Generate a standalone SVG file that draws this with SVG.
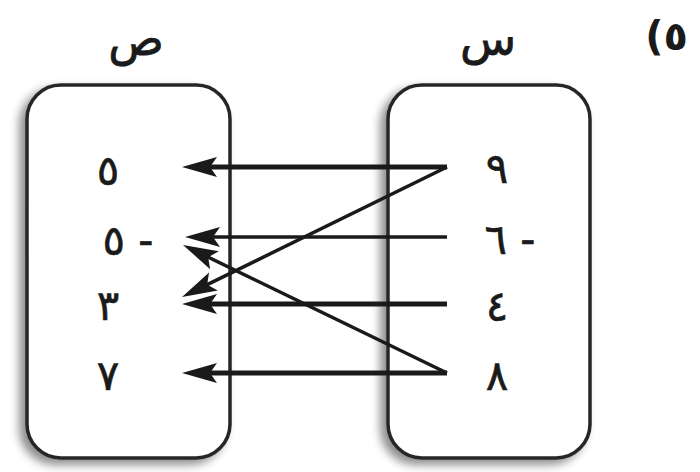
<svg xmlns="http://www.w3.org/2000/svg" width="700" height="472" viewBox="0 0 700 472">
<style>
.box{fill:#fff;stroke:#262626;stroke-width:3.5;filter:url(#sh)}
.num{font-family:"DejaVu Sans",sans-serif;font-size:42px;fill:#1a1a1a;stroke:#1a1a1a;stroke-width:0.6;text-anchor:middle;dominant-baseline:central}
.lbl{font-family:"DejaVu Sans",sans-serif;font-size:46px;fill:#1a1a1a;stroke:#1a1a1a;stroke-width:0.8;text-anchor:middle}
.ar{stroke:#1a1a1a;fill:none;stroke-linecap:butt;marker-end:url(#ah)}
</style>
<defs>
<filter id="sh" x="-20%" y="-20%" width="140%" height="140%">
<feGaussianBlur in="SourceAlpha" stdDeviation="5"/>
<feOffset dx="-6" dy="5" result="b"/>
<feFlood flood-color="#000" flood-opacity="0.45"/>
<feComposite in2="b" operator="in"/>
<feMerge><feMergeNode/><feMergeNode in="SourceGraphic"/></feMerge>
</filter>
<marker id="ah" markerUnits="userSpaceOnUse" viewBox="-21 -11 37 22" refX="0" refY="0" markerWidth="37" markerHeight="22" orient="auto">
<path d="M15,0 L-20,-10 L-13,0 L-20,10 Z" fill="#1a1a1a"/>
</marker>
</defs>
<rect width="700" height="472" fill="#fff"/>
<text x="688" y="50" style="font-family:'DejaVu Sans',sans-serif;font-weight:bold;font-size:40px;fill:#1a1a1a;text-anchor:end;unicode-bidi:bidi-override;direction:ltr">(٥</text>
<g id="Y">
<rect class="box" x="27" y="85" width="203" height="373" rx="34"/>
<text class="lbl" x="136" y="55">ص</text>
<text class="num" x="108" y="170">٥</text>
<text class="num" x="128" y="240" direction="rtl">- ٥</text>
<text class="num" x="108" y="305">٣</text>
<text class="num" x="108" y="375">٧</text>
</g>
<g id="X">
<rect class="box" x="388" y="85" width="202" height="373" rx="34"/>
<text class="lbl" x="488" y="55">س</text>
<text class="num" x="497" y="168">٩</text>
<text class="num" x="510" y="239" direction="rtl">- ٦</text>
<text class="num" x="497" y="306">٤</text>
<text class="num" x="497" y="375">٨</text>
</g>
<g id="connectors">
<line class="ar" x1="447" y1="167" x2="197" y2="167" stroke-width="5"/>
<line class="ar" x1="447" y1="237" x2="200" y2="237" stroke-width="3.5"/>
<line class="ar" x1="447" y1="304" x2="197" y2="304" stroke-width="5"/>
<line class="ar" x1="447" y1="373" x2="197" y2="373" stroke-width="5"/>
<line class="ar" x1="447" y1="167" x2="195.5" y2="290.4" stroke-width="3.5"/>
<line class="ar" x1="447" y1="373" x2="196.5" y2="251.5" stroke-width="3.5"/>
</g>
</svg>
